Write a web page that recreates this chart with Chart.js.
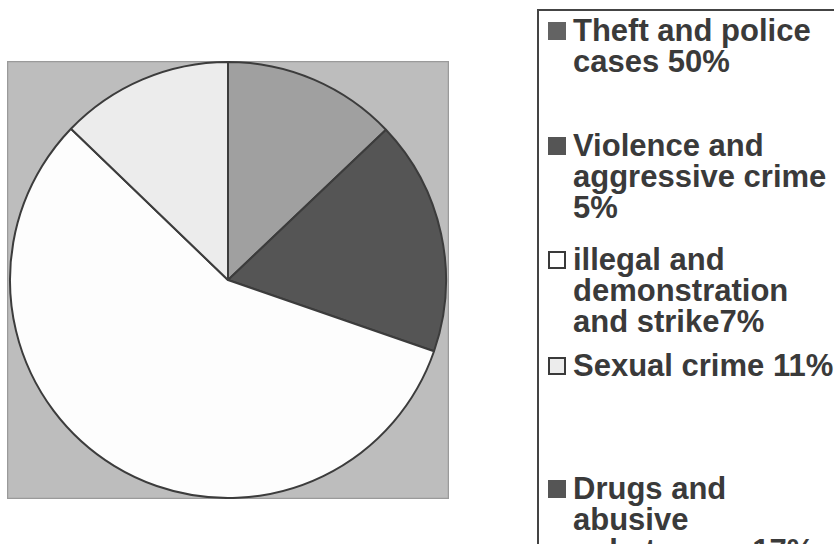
<!DOCTYPE html>
<html>
<head>
<meta charset="utf-8">
<script src="https://cdn.jsdelivr.net/npm/chart.js@4"></script>
<style>
    html, body { margin: 0; padding: 0; background: #fff; overflow: hidden; }
    body { width: 834px; height: 544px; position: relative; font-family: "Liberation Sans", Arial, sans-serif; }
    #pieWrap { position: absolute; left: 7px; top: 61px; width: 442px; height: 438px; }
    #legendBox { position: absolute; left: 537px; top: 9px; width: 400px; height: 600px; border: 2px solid #444; box-sizing: border-box; }
    .txt { position: absolute; left: 573px; font-weight: bold; font-size: 31px; line-height: 31px; color: #3a3a3a; white-space: nowrap; }
    .box { position: absolute; left: 548px; width: 18px; height: 18px; box-sizing: border-box; }
</style>
</head>
<body>
<div id="pieWrap"><canvas id="pieChart"></canvas></div>
<div id="legendBox"></div>
<script>
const categories = [
    ['Theft and police', 'cases 50%'],
    ['Violence and', 'aggressive crime', '5%'],
    ['illegal and', 'demonstration', 'and strike7%'],
    ['Sexual crime 11%'],
    ['Drugs and', 'abusive', 'substances 17%'],
];
const sliceValues = [12.9, 17.4, 56.9, 12.8, 0];
const sliceColors = ['#a0a0a0', '#555555', '#fdfdfd', '#ececec', '#555555'];
const iconColors = ['#636363', '#555555', '#ffffff', '#ececec', '#555555'];
const iconOutlined = [false, false, true, true, false];

// baseline of the first line of each legend entry
const legendBaselines = [41, 156, 270, 376, 499];

document.addEventListener('DOMContentLoaded', () => {
    const plotBackground = {
        id: 'plotBackground',
        beforeDraw(chart) {
            const { ctx, chartArea } = chart;
            ctx.save();
            ctx.fillStyle = '#bdbdbd';
            ctx.fillRect(chartArea.left, chartArea.top, chartArea.width, chartArea.height);
            ctx.strokeStyle = '#9a9a9a';
            ctx.lineWidth = 1.5;
            ctx.strokeRect(chartArea.left + 0.5, chartArea.top + 0.5, chartArea.width - 1, chartArea.height - 1);
            ctx.restore();
        },
    };

    new Chart(document.getElementById('pieChart'), {
        type: 'pie',
        data: {
            labels: categories.map((lines) => lines.join(' ')),
            datasets: [
                {
                    data: sliceValues,
                    backgroundColor: sliceColors,
                    borderColor: '#3c3c3c',
                    borderWidth: 2,
                },
            ],
        },
        options: {
            responsive: true,
            maintainAspectRatio: false,
            animation: false,
            layout: { padding: 0 },
            plugins: {
                legend: { display: false },
                tooltip: { enabled: false },
            },
        },
        plugins: [plotBackground],
    });

    categories.forEach((lines, i) => {
        const baseline = legendBaselines[i];

        const box = document.createElement('div');
        box.className = 'box';
        box.style.top = (baseline - 19) + 'px';
        box.style.background = iconColors[i];
        box.style.border = iconOutlined[i] ? '2px solid #3a3a3a' : 'none';
        document.body.appendChild(box);

        const txt = document.createElement('div');
        txt.className = 'txt';
        txt.style.top = (baseline - 26) + 'px';
        txt.innerHTML = lines.join('<br>');
        document.body.appendChild(txt);
    });
});
</script>
</body>
</html>
